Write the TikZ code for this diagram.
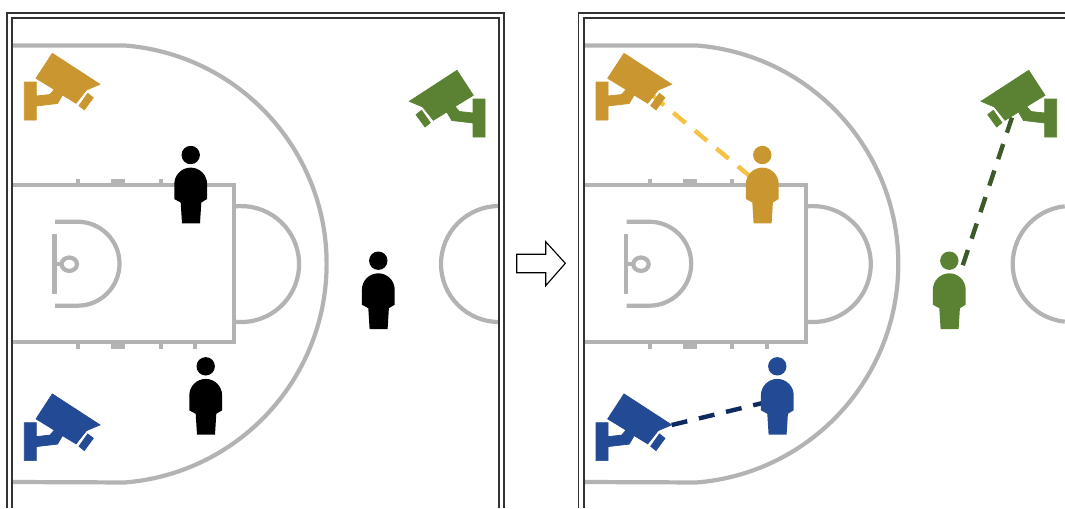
\documentclass[tikz,border=0pt]{standalone}
\usepackage{xcolor}
\usetikzlibrary{calc}
\definecolor{cGold}{HTML}{C9962F}
\definecolor{cGoldL}{HTML}{F7C244}
\definecolor{cGreen}{HTML}{5B8232}
\definecolor{cGreenL}{HTML}{3F5A2A}
\definecolor{cBlue}{HTML}{234A94}
\definecolor{cBlueL}{HTML}{0F2A5F}
\definecolor{cCourt}{HTML}{B3B3B3}
\definecolor{cFrame}{HTML}{333333}
\tikzset{
  frameline/.style={draw=cFrame,line width=0.75pt},
  courtline/.style={draw=cCourt,line width=2.4pt},
  courtmark/.style={fill=cCourt},
  sightline/.style={line width=2.5pt,dash pattern=on 9.1pt off 6.8pt},
  turnarrow/.style={draw=black,fill=white,line width=0.65pt},
}
% court at x offset #1, #2 = half angle of the centre circle
\newcommand{\court}[2]{%
  \draw[courtline] (#1+12,45.5) -- (#1+125,45.5) arc (-85.4:85.4:219.2) -- (#1+12,482);
  \draw[courtline] (#1+12,185) -- (#1+234,185) -- (#1+234,342) -- (#1+12,342);
  \draw[courtline] (#1+234,206.5) arc (-97:97:58);
  \draw[courtline] (#1+55,221.7) -- (#1+77.5,221.7) arc (-90:90:42) -- (#1+55,305.7);
  \draw[courtline] (#1+54.5,234) -- (#1+54.5,294) (#1+54.5,264) -- (#1+62,264);
  \draw[courtline] (#1+69.3,264.2) ellipse (7.7 and 6.7);
  \draw[courtline] (#1+499,264) ++(180+#2:58) arc (180+#2:180-#2:58);
  \foreach \tx in {78,160.5,195}{
    \fill[courtmark] (#1+\tx-2,185) rectangle (#1+\tx+2,179.3);
    \fill[courtmark] (#1+\tx-2,342) rectangle (#1+\tx+2,349);}
  \fill[courtmark] (#1+111,185) rectangle (#1+125,179.3);
  \fill[courtmark] (#1+111,342) rectangle (#1+125,349);}
\newcommand{\camerashape}[1]{%
  \filldraw[fill=#1,draw=#1,line width=0.4pt] (52.3,53.3) -- (100,84.3) -- (86.5,90)
    -- (76,103.3) -- (62.5,95) -- (57.5,103.5) -- (36.3,106) -- (36.3,120)
    -- (24.3,120) -- (24.3,82) -- (36.3,82) -- (36.3,96) -- (50,94.5) -- (54.3,89.5)
    -- (36,78.3) -- cycle;
  \filldraw[fill=#1,draw=#1,line width=0.4pt] (87.7,93.3) -- (93.3,97.7) -- (84.3,110)
    -- (79,105.7) -- cycle;}
\newcommand{\camera}[3]{\begin{scope}[shift={(#1,#2)}]\camerashape{#3}\end{scope}}
\newcommand{\cameraflip}[3]{\begin{scope}[shift={(#1,#2)},xscale=-1]\camerashape{#3}\end{scope}}
\newcommand{\person}[3]{%
  \begin{scope}[shift={(#1,#2)}]
  \fill[#3] (0,0) circle (9.2);
  \fill[#3] (-16.4,44) -- (-16.4,29) arc (180:360:16.4) -- (16.4,44) -- (10.6,47.5)
    -- (9.3,68.3) -- (-8.7,68.3) -- (-10,47.5) -- cycle;
  \end{scope}}

\begin{document}
\begin{tikzpicture}[x=0.02cm,y=-0.02cm]
  \useasboundingbox (0,0) rectangle (1065,508);

  \court{0}{90}
  \court{571.7}{84.1}

  \draw[frameline] (7,508) -- (7,13) -- (504,13) -- (504,508);
  \draw[frameline] (12,508) -- (12,18) -- (499,18) -- (499,508);
  \draw[frameline] (578.5,508) -- (578.5,13) -- (1065,13);
  \draw[frameline] (584,508) -- (584,18) -- (1065,18);

  \draw[turnarrow] (516.7,254.3) -- (545.7,254.3) -- (545.7,241.7) -- (565.3,263.3)
    -- (545.7,285.7) -- (545.7,272.7) -- (516.7,272.7) -- cycle;

  \camera{0}{0}{cGold}
  \cameraflip{509.3}{17}{cGreen}
  \camera{0}{340.6}{cBlue}
  \person{190.7}{155}{black}
  \person{378.3}{260.7}{black}
  \person{205.7}{366.3}{black}

  % sight lines go under the second panel's figures
  \coordinate (lensGold) at (651.8,95);
  \coordinate (endGold) at (752,178);
  \coordinate (lensGreen) at (1012,117.5);
  \coordinate (endGreen) at (962.3,266.7);
  \coordinate (lensBlue) at (671.7,425);
  \coordinate (endBlue) at (775,400);
  \draw[sightline,draw=cGoldL] (lensGold) -- (endGold);
  \draw[sightline,draw=cGreenL] (lensGreen) -- (endGreen);
  \draw[sightline,draw=cBlueL] (lensBlue) -- (endBlue);

  \person{762.3}{155}{cGold}
  \person{949.3}{260.7}{cGreen}
  \person{777.3}{366.3}{cBlue}
  \camera{571.7}{0}{cGold}
  \cameraflip{1081}{17}{cGreen}
  \camera{571.7}{340.6}{cBlue}
\end{tikzpicture}
\end{document}
